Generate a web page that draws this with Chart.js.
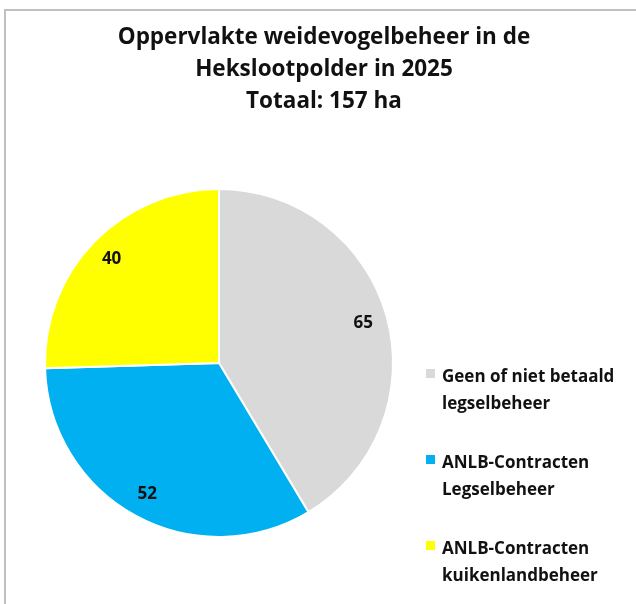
<!DOCTYPE html>
<html>
<head>
<meta charset="utf-8">
<script src="https://cdn.jsdelivr.net/npm/chart.js@4/dist/chart.umd.min.js"></script>
<style>
  html, body { margin: 0; padding: 0; background: #fff; }
  #wrap { position: relative; width: 636px; height: 604px; overflow: hidden; font-family: "Open Sans", Lato, sans-serif; }
  #frame { position: absolute; left: 4px; top: 9px; width: 700px; height: 700px; border-left: 2px solid #c0c0c0; border-top: 2px solid #c0c0c0; }
  #title { position: absolute; left: 0; top: 20px; width: 648px; text-align: center; font-weight: bold; font-size: 22.5px; line-height: 32px; color: #111; }
  #legend { position: absolute; left: 426px; top: 362px; font-weight: bold; font-size: 17px; line-height: 27px; color: #111; }
  .item { position: relative; padding-left: 16px; height: 86px; }
  .box { position: absolute; left: 0; top: 7px; width: 9px; height: 9px; }
  canvas { position: absolute; left: 0; top: 0; }
</style>
</head>
<body>
<div id="wrap">
  <div id="frame"></div>
  <canvas id="myChart" width="636" height="604"></canvas>
  <div id="title">Oppervlakte weidevogelbeheer in de<br>Hekslootpolder in 2025<br>Totaal: 157 ha</div>
  <div id="legend"></div>
</div>
<script>
// gegevens
var categories = [
  ["Geen of niet betaald", "legselbeheer"],
  ["ANLB-Contracten", "Legselbeheer"],
  ["ANLB-Contracten", "kuikenlandbeheer"]
];
var values = [65, 52, 40];
var colors = ['#D9D9D9', '#00B0F0', '#FFFF00'];

// waarden in de taartpunten
var sliceLabels = {
  id: 'sliceLabels',
  afterDatasetsDraw: function(chart) {
    var ctx = chart.ctx;
    var meta = chart.getDatasetMeta(0);
    ctx.save();
    ctx.font = 'bold 17px "Open Sans", Lato, sans-serif';
    ctx.fillStyle = '#111';
    ctx.textAlign = 'center';
    ctx.textBaseline = 'middle';
    meta.data.forEach(function(arc, i) {
      var mid = (arc.startAngle + arc.endAngle) / 2;
      var r = arc.outerRadius * 0.86;
      ctx.fillText(chart.data.datasets[0].data[i], arc.x + Math.cos(mid) * r, arc.y + Math.sin(mid) * r);
    });
    ctx.restore();
  }
};

var ctx = document.getElementById("myChart");
var myChart = new Chart(ctx, {
  type: 'pie',
  data: {
    labels: categories,
    datasets: [{
      data: values,
      backgroundColor: colors,
      borderColor: '#ffffff',
      borderWidth: 2
    }]
  },
  options: {
    responsive: false,
    animation: false,
    layout: { padding: { left: 44, top: 188, right: 242, bottom: 66 } },
    plugins: {
      legend: { display: false },
      title: { display: false },
      tooltip: { enabled: false }
    }
  },
  plugins: [sliceLabels]
});

// legenda
var legend = document.getElementById('legend');
categories.forEach(function(lines, i) {
  var item = document.createElement('div');
  item.className = 'item';
  item.innerHTML = '<span class="box" style="background:' + colors[i] + '"></span>' + lines.join('<br>');
  legend.appendChild(item);
});
</script>
</body>
</html>
